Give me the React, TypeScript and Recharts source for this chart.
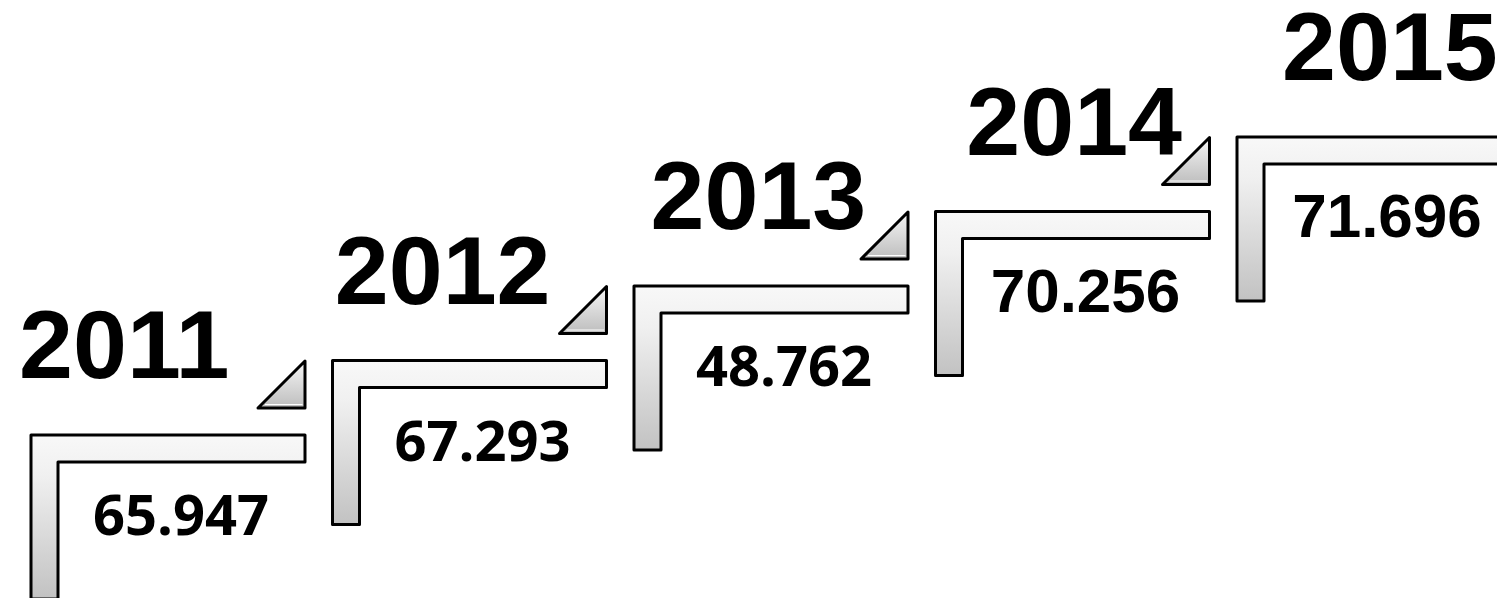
import React from 'react';
import { ComposedChart, Scatter, XAxis, YAxis } from 'recharts';

const years = ['2011', '2012', '2013', '2014', '2015'];
const values = [65947, 67293, 48762, 70256, 71696];
const stepIndex = [0, 1, 2, 3, 4];
const stepLevel = [0, 1, 2, 3, 4];

const data = years.map((y, i) => ({
  year: y,
  value: values[i],
  step: stepIndex[i],
  level: stepLevel[i],
  idx: i,
}));

const fmt = (n: number) => {
  const s = String(Math.round(n));
  return s.replace(/\B(?=(\d{3})+(?!\d))/g, '.');
};

const W = 1497;
const H = 598;

const StepShape = (props: any) => {
  const { cx, cy, payload } = props;
  if (cx == null || cy == null) return null;
  const i = payload.idx;
  const last = i === years.length - 1;
  const bw = last ? 300 : 274; // bar length
  const t = 27; // thickness
  const h = 164; // vertical length
  const x = cx;
  const y = cy;
  const lPath = `M${x},${y} H${x + bw} V${y + t} H${x + t} V${y + h} H${x} Z`;
  const triR = x + bw;
  const triB = y - t;
  const triPath = `M${triR - 47},${triB} L${triR},${triB - 47} L${triR},${triB} Z`;
  const arialValue = i >= 3;
  return (
    <g>
      <path d={lPath} fill="url(#lGrad)" stroke="#000" strokeWidth={3} strokeLinejoin="round" />
      {!last && (
        <g>
          <path d={triPath} fill="url(#tGrad)" stroke="#000" strokeWidth={3} strokeLinejoin="round" />
          <line x1={triR - 40} y1={triB - 3.5} x2={triR - 2.5} y2={triB - 3.5} stroke="#fff" strokeWidth={1} />
        </g>
      )}
      <text
        x={x - 12 + 14.25 * i}
        y={y - 57}
        fontFamily="'Liberation Sans', Arial, sans-serif"
        fontWeight="bold"
        fontSize={97}
        fill="#000"
        textAnchor="start"
      >
        {payload.year}
      </text>
      <text
        x={x + 150}
        y={y + 100}
        fontFamily={arialValue ? "'Liberation Sans', Arial, sans-serif" : "'Open Sans', sans-serif"}
        fontWeight="bold"
        fontSize={arialValue ? 62 : 56}
        fill="#000"
        textAnchor="middle"
      >
        {fmt(payload.value)}
      </text>
    </g>
  );
};

export default function App() {
  return (
    <div style={{ position: 'absolute', left: 0, top: 0, width: W, height: H, background: '#fff', overflow: 'hidden' }}>
      <ComposedChart width={W} height={H} data={data} margin={{ top: 0, right: 0, bottom: 0, left: 0 }}>
        <defs>
          <linearGradient id="lGrad" x1="0" y1="0" x2="0" y2="1">
            <stop offset="0%" stopColor="#f8f8f8" />
            <stop offset="25%" stopColor="#f0f0f0" />
            <stop offset="100%" stopColor="#c2c2c2" />
          </linearGradient>
          <linearGradient id="tGrad" x1="0" y1="0" x2="0" y2="1">
            <stop offset="0%" stopColor="#f6f6f6" />
            <stop offset="100%" stopColor="#bdbdbd" />
          </linearGradient>
        </defs>
        <XAxis type="number" dataKey="step" domain={[-31 / 301.5, (W - 31) / 301.5]} hide allowDataOverflow />
        <YAxis type="number" dataKey="level" domain={[(435 - H) / 74.5, 435 / 74.5]} hide allowDataOverflow />
        <Scatter data={data} dataKey="level" shape={<StepShape />} isAnimationActive={false} />
      </ComposedChart>
    </div>
  );
}
